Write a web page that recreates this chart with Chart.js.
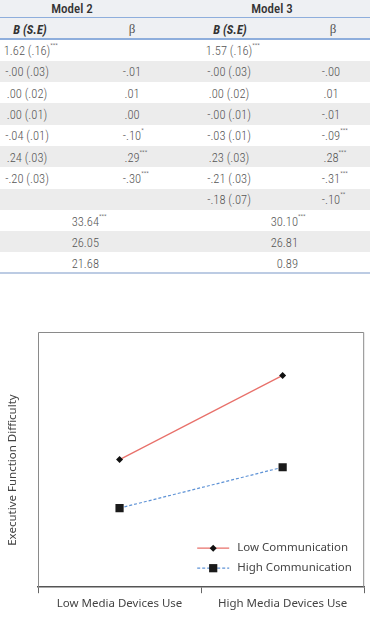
<!DOCTYPE html>
<html>
<head>
<meta charset="utf-8">
<script src="https://cdn.jsdelivr.net/npm/chart.js"></script>
<style>
  body { margin: 0; width: 370px; height: 627px; background: #fff; overflow: hidden; position: relative; }
  #table { position: absolute; left: 0; top: 0; width: 370px; height: 276px; font-family: "Roboto Condensed", "Liberation Sans Narrow", Roboto, sans-serif; }
  .row { position: absolute; left: 0; width: 370px; }
  .hd { background: #eef0f3; }
  .stripe { background: #ececec; }
  .rule { position: absolute; left: 0; width: 370px; }
  .cell { position: absolute; white-space: nowrap; transform: translate(-50%, -50%); font-size: 12.5px; font-weight: 300; color: #555; }
  .cell.right { transform: translate(-100%, -50%); }
  .cell sup { position: absolute; left: 100%; top: -1px; font-size: 6px; line-height: 6px; }
  .model { font-size: 13px; color: #333; font-weight: 500; }
  .bse { font-size: 12.5px; color: #333; font-weight: bold; font-style: italic; }
  .beta { font-size: 13px; color: #555; font-weight: normal; font-family: "Liberation Serif", serif; }
  #chartBox { position: absolute; left: 0; top: 300px; width: 370px; height: 327px; }
</style>
</head>
<body>
<div id="table"></div>
<div id="chartBox"><canvas id="myChart"></canvas></div>
<script>
// table values
const models = ["Model 2", "Model 3"];
const bModel2 = ["1.62 (.16)", "-.00 (.03)", ".00 (.02)", ".00 (.01)", "-.04 (.01)", ".24 (.03)", "-.20 (.03)", ""];
const bModel2Sig = ["***", "", "", "", "", "", "", ""];
const betaModel2 = ["", "-.01", ".01", ".00", "-.10", ".29", "-.30", ""];
const betaModel2Sig = ["", "", "", "", "*", "***", "***", ""];
const bModel3 = ["1.57 (.16)", "-.00 (.03)", ".00 (.02)", "-.00 (.01)", "-.03 (.01)", ".23 (.03)", "-.21 (.03)", "-.18 (.07)"];
const bModel3Sig = ["***", "", "", "", "", "", "", ""];
const betaModel3 = ["", "-.00", ".01", "-.01", "-.09", ".28", "-.31", "-.10"];
const betaModel3Sig = ["", "", "", "", "***", "***", "***", "**"];
const fitModel2 = ["33.64", "26.05", "21.68"];
const fitModel2Sig = ["***", "", ""];
const fitModel3 = ["30.10", "26.81", "0.89"];
const fitModel3Sig = ["***", "", ""];

// chart values
const mediaUse = ["Low Media Devices Use", "High Media Devices Use"];
const lowCommunication = [5.0, 8.3];
const highCommunication = [3.1, 4.7];

const table = document.querySelector("#table");
const rowTop = 39.5;
const rowH = 21.3;

function addCell(text, sig, x, y, cls) {
  const el = document.createElement("span");
  el.className = "cell " + (cls || "");
  el.style.left = x + "px";
  el.style.top = y + "px";
  el.textContent = text;
  if (sig) {
    const s = document.createElement("sup");
    s.textContent = sig;
    el.appendChild(s);
  }
  table.appendChild(el);
}
function addBox(cls, top, height, color) {
  const el = document.createElement("div");
  el.className = cls;
  el.style.top = top + "px";
  el.style.height = height + "px";
  if (color) el.style.background = color;
  table.appendChild(el);
}

// header
addBox("row hd", 0, 39.5);
addBox("rule", 16.5, 1, "#8eaedc");
addBox("rule", 38, 1.5, "#8eaedc");
addCell(models[0], "", 72, 8, "model");
addCell(models[1], "", 272, 8, "model");
addCell("B (S.E)", "", 30, 28.5, "bse");
addCell("\u03b2", "", 132, 29, "beta");
addCell("B (S.E)", "", 230, 28.5, "bse");
addCell("\u03b2", "", 333, 29, "beta");

// body rows
const nRows = bModel2.length + fitModel2.length;
for (let i = 0; i < nRows; i++) {
  if (i % 2 === 1) addBox("row stripe", rowTop + i * rowH, rowH);
}
bModel2.forEach(function (v, i) {
  const y = rowTop + i * rowH + rowH / 2;
  if (v) addCell(v, bModel2Sig[i], 27, y);
  if (betaModel2[i]) addCell(betaModel2[i], betaModel2Sig[i], 132, y);
  if (bModel3[i]) addCell(bModel3[i], bModel3Sig[i], 229, y);
  if (betaModel3[i]) addCell(betaModel3[i], betaModel3Sig[i], 331, y);
});
fitModel2.forEach(function (v, j) {
  const i = bModel2.length + j;
  const y = rowTop + i * rowH + rowH / 2;
  addCell(v, fitModel2Sig[j], 99, y, "right");
  addCell(fitModel3[j], fitModel3Sig[j], 298, y, "right");
});
addBox("rule", 272, 2, "#bccbe3");

// chart
const frame = {
  id: "frame",
  beforeDatasetsDraw(chart) {
    const { ctx, chartArea: a } = chart;
    ctx.save();
    ctx.strokeStyle = "#8a8a8a";
    ctx.lineWidth = 1;
    ctx.beginPath();
    ctx.moveTo(a.left + 0.5, a.bottom);
    ctx.lineTo(a.left + 0.5, a.top + 0.5);
    ctx.lineTo(a.right - 0.5, a.top + 0.5);
    ctx.lineTo(a.right - 0.5, a.bottom);
    ctx.stroke();
    ctx.restore();
  },
};

const insideLegend = {
  id: "insideLegend",
  afterDatasetsDraw(chart) {
    const { ctx, chartArea: a } = chart;
    chart.data.datasets.forEach(function (ds, i) {
      const x = a.right - 167;
      const y = a.bottom - 39 + i * 20;
      ctx.save();
      ctx.strokeStyle = ds.borderColor;
      ctx.lineWidth = ds.borderWidth;
      ctx.setLineDash(ds.borderDash || []);
      ctx.beginPath();
      ctx.moveTo(x, y);
      ctx.lineTo(x + 32, y);
      ctx.stroke();
      ctx.setLineDash([]);
      ctx.fillStyle = ds.pointBackgroundColor;
      const mx = x + 16;
      if (ds.pointStyle === "rectRot") {
        const r = ds.pointRadius;
        ctx.beginPath();
        ctx.moveTo(mx - r, y);
        ctx.lineTo(mx, y - r);
        ctx.lineTo(mx + r, y);
        ctx.lineTo(mx, y + r);
        ctx.closePath();
        ctx.fill();
      } else {
        const s = ds.pointRadius * Math.SQRT1_2;
        ctx.fillRect(mx - s, y - s, 2 * s, 2 * s);
      }
      ctx.fillStyle = "#444";
      ctx.font = "11.5px 'Noto Sans', sans-serif";
      ctx.textBaseline = "middle";
      ctx.fillText(ds.label, x + 40, y);
      ctx.restore();
    });
  },
};

Chart.defaults.font.family = "'Noto Sans', sans-serif";
Chart.defaults.font.size = 11.5;
Chart.defaults.color = "#444";

const chart = new Chart(document.querySelector("#myChart"), {
  type: "line",
  data: {
    labels: mediaUse,
    datasets: [
      {
        label: "Low Communication",
        data: lowCommunication,
        borderColor: "#e8706a",
        borderWidth: 1.2,
        pointStyle: "rectRot",
        pointRadius: 3.5,
        pointBackgroundColor: "#111",
        pointBorderWidth: 0,
        tension: 0,
      },
      {
        label: "High Communication",
        data: highCommunication,
        borderColor: "#5f93d6",
        borderWidth: 1.2,
        borderDash: [3, 2],
        pointStyle: "rect",
        pointRadius: 5.8,
        pointBackgroundColor: "#1a1a1a",
        pointBorderWidth: 0,
        tension: 0,
      },
    ],
  },
  options: {
    responsive: true,
    maintainAspectRatio: false,
    animation: false,
    layout: { padding: { left: 6, top: 32, right: 3, bottom: 12 } },
    plugins: { legend: { display: false }, tooltip: { enabled: false } },
    scales: {
      x: {
        offset: true,
        grid: { display: true, offset: true, drawOnChartArea: false, drawTicks: true, tickLength: 6, color: "#666" },
        border: { display: true, color: "#555", width: 1.5 },
        ticks: { padding: 4, maxRotation: 0, color: "#444" },
      },
      y: {
        min: 0,
        max: 10,
        ticks: { display: false },
        grid: { display: false, drawTicks: false },
        border: { display: false },
        title: {
          display: true,
          // trailing spaces push the centred title down, like the reference
          text: "Executive Function Difficulty       ",
          color: "#444",
          padding: { top: 0, bottom: 18.2 },
        },
      },
    },
  },
  plugins: [frame, insideLegend],
});
</script>
</body>
</html>
